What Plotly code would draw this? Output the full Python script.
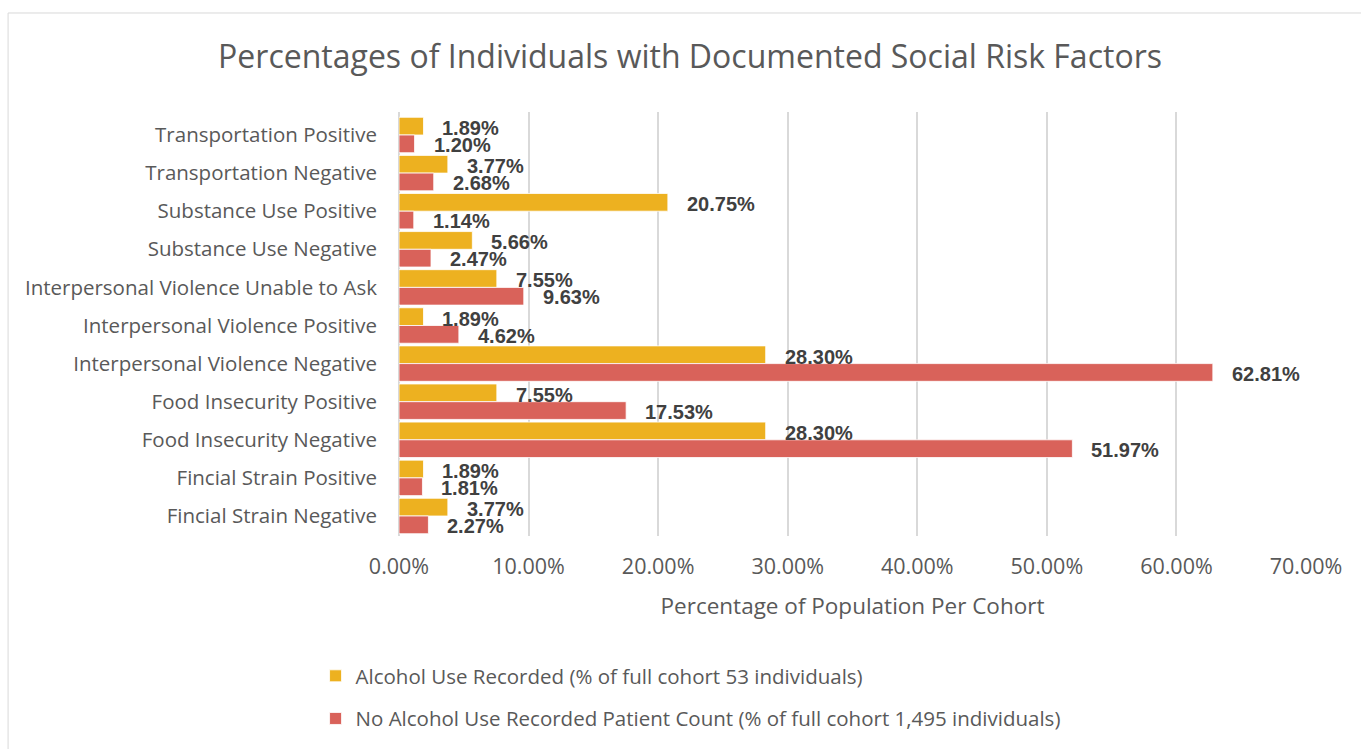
import plotly.graph_objects as go

# Social risk factor categories, listed top to bottom
categories = [
    "Transportation Positive",
    "Transportation Negative",
    "Substance Use Positive",
    "Substance Use Negative",
    "Interpersonal Violence Unable to Ask",
    "Interpersonal Violence Positive",
    "Interpersonal Violence Negative",
    "Food Insecurity Positive",
    "Food Insecurity Negative",
    "Fincial Strain Positive",
    "Fincial Strain Negative",
]

# Percent of each cohort with the documented factor
alcohol_pct = [1.89, 3.77, 20.75, 5.66, 7.55, 1.89, 28.30, 7.55, 28.30, 1.89, 3.77]
no_alcohol_pct = [1.20, 2.68, 1.14, 2.47, 9.63, 4.62, 62.81, 17.53, 51.97, 1.81, 2.27]

alcohol_name = "Alcohol Use Recorded (% of full cohort 53 individuals)"
no_alcohol_name = "No Alcohol Use Recorded Patient Count (% of full cohort 1,495 individuals)"

x_ticks = [0, 10, 20, 30, 40, 50, 60, 70]
x_tick_text = [f"{v:.2f}%" for v in x_ticks]

YELLOW = "#EDB120"
RED = "#D9625A"
TEXT = "#595959"
LABEL = "#404040"
GRID = "#D9D9D9"
FONT = "Open Sans"

fig = go.Figure()
fig.add_trace(go.Bar(
    y=categories, x=alcohol_pct, orientation="h", name=alcohol_name,
    marker=dict(color=YELLOW, line=dict(color="white", width=0.8)),
    legendgroup="a",
))
fig.add_trace(go.Bar(
    y=categories, x=no_alcohol_pct, orientation="h", name=no_alcohol_name,
    marker=dict(color=RED, line=dict(color="white", width=0.8)),
    legendgroup="b",
))

# Value labels just past the end of each bar
annotations = []
for cat, a, b in zip(categories, alcohol_pct, no_alcohol_pct):
    for val, ys in ((a, 7), (b, -10)):
        annotations.append(dict(
            x=val, y=cat, xref="x", yref="y", text=f"<b>{val:.2f}%</b>",
            showarrow=False, xanchor="left", yanchor="middle",
            xshift=17, yshift=ys,
            font=dict(family="Liberation Sans", size=20, color=LABEL),
        ))

fig.update_layout(
    width=1361, height=749,
    margin=dict(l=399, r=55, t=112, b=213, autoexpand=False),
    paper_bgcolor="white", plot_bgcolor="white",
    barmode="group", bargap=0.07, bargroupgap=0,
    title=dict(
        text="Percentages of Individuals with Documented Social Risk Factors",
        x=0.507, xanchor="center", y=0.924, yanchor="middle",
        font=dict(family=FONT, size=32, color=TEXT),
    ),
    xaxis=dict(
        range=[0, 70], tickvals=x_ticks, ticktext=x_tick_text,
        showgrid=True, gridcolor=GRID, gridwidth=1.5,
        zeroline=True, zerolinecolor=GRID, zerolinewidth=1.5,
        showline=False, ticks="", ticklabelstandoff=15, automargin=False,
        tickfont=dict(family=FONT, size=21.5, color=TEXT),
        title=dict(text="Percentage of Population Per Cohort", standoff=19,
                   font=dict(family=FONT, size=22.5, color=TEXT)),
    ),
    yaxis=dict(
        autorange="reversed", showgrid=False, showline=False, ticks="",
        ticklabelstandoff=21, automargin=False,
        tickfont=dict(family=FONT, size=20.5, color=TEXT),
    ),
    legend=dict(
        orientation="v", x=-0.092, xanchor="left", y=-0.283, yanchor="top",
        traceorder="grouped", tracegroupgap=13,
        font=dict(family=FONT, size=20.5, color=TEXT),
        itemwidth=30,
    ),
    annotations=annotations,
    shapes=[dict(
        type="rect", xref="paper", yref="paper",
        x0=-0.431, x1=1.08, y0=-0.6, y1=1.2335,
        line=dict(color=GRID, width=1), fillcolor="rgba(0,0,0,0)", layer="below",
    )],
    showlegend=True,
)

fig.write_html("out.html")
